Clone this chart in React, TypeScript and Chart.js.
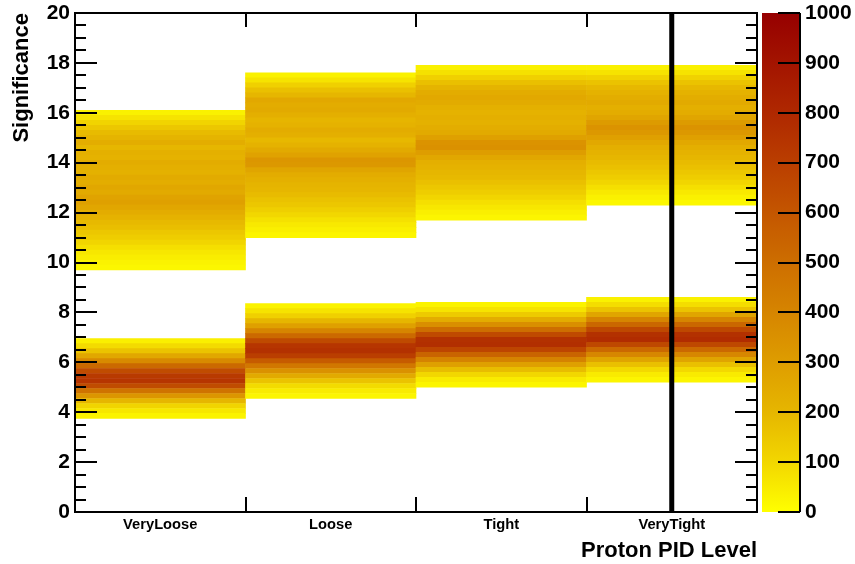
import React, { useEffect, useRef } from "react";
import { Chart, registerables } from "chart.js";

Chart.register(...registerables);

// ---- Data ----
const categories = ["VeryLoose", "Loose", "Tight", "VeryTight"];
const binWidth = 0.2; // significance units per bin

// counts per bin, listed from bottom (start) upwards
const veryLooseLowStart = 3.75;
const veryLooseLow = [30, 60, 110, 200, 330, 480, 640, 740, 720, 640, 520, 380, 260, 160, 90, 40];
const veryLooseHighStart = 9.7;
const veryLooseHigh = [20, 30, 45, 60, 80, 105, 130, 150, 175, 190, 215, 240, 265, 290, 275, 250, 260, 235, 245, 220, 230, 240, 215, 225, 200, 235, 210, 185, 150, 110, 70, 35];

const looseLowStart = 4.55;
const looseLow = [25, 50, 90, 160, 250, 350, 460, 580, 700, 760, 740, 650, 520, 400, 290, 200, 120, 70, 30];
const looseHighStart = 11.0;
const looseHigh = [25, 40, 55, 75, 100, 125, 150, 165, 185, 200, 210, 225, 240, 270, 320, 330, 280, 250, 215, 195, 230, 240, 215, 205, 230, 250, 240, 255, 200, 170, 120, 70, 35];

const tightLowStart = 5.0;
const tightLow = [25, 50, 100, 180, 290, 410, 540, 670, 770, 760, 650, 500, 360, 240, 140, 70, 30];
const tightHighStart = 11.7;
const tightHigh = [25, 40, 60, 80, 105, 130, 150, 170, 190, 200, 215, 230, 260, 300, 350, 340, 290, 250, 235, 220, 230, 215, 225, 245, 255, 240, 210, 170, 120, 75, 35];

const veryTightLowStart = 5.2;
const veryTightLow = [25, 50, 95, 170, 270, 390, 520, 660, 780, 760, 660, 530, 400, 270, 160, 85, 35];
const veryTightHighStart = 12.3;
const veryTightHigh = [20, 35, 55, 80, 105, 130, 150, 170, 185, 200, 215, 230, 255, 290, 320, 340, 310, 270, 240, 230, 250, 235, 215, 195, 160, 115, 70, 35];

const yTickStep = 2;
const zMin = 0;
const zMax = 1000;
const zTickStep = 100;
const markerCategoryIndex = 3; // vertical line position
const xTitle = "Proton PID Level";
const yTitle = "Significance";

// ---- Palette ----
const paletteStops: [number, number, number, number][] = [
  [0, 255, 255, 0],
  [100, 242, 215, 0],
  [200, 230, 182, 0],
  [300, 222, 157, 0],
  [400, 214, 133, 0],
  [500, 205, 110, 0],
  [600, 196, 86, 0],
  [700, 186, 62, 0],
  [800, 175, 40, 0],
  [900, 163, 20, 0],
  [1000, 150, 0, 0],
];

function colorFor(v: number): string {
  const c = Math.max(zMin, Math.min(zMax, v));
  for (let i = 0; i < paletteStops.length - 1; i++) {
    const a = paletteStops[i];
    const b = paletteStops[i + 1];
    if (c >= a[0] && c <= b[0]) {
      const t = (c - a[0]) / (b[0] - a[0]);
      const r = Math.round(a[1] + (b[1] - a[1]) * t);
      const g = Math.round(a[2] + (b[2] - a[2]) * t);
      const bl = Math.round(a[3] + (b[3] - a[3]) * t);
      return `rgb(${r},${g},${bl})`;
    }
  }
  return "rgb(150,0,0)";
}

const FONT = "'Liberation Sans', Arial, Helvetica, sans-serif";

type Bin = { lo: number; hi: number; v: number };

function toBins(start: number, counts: number[]): Bin[] {
  return counts.map((v, k) => ({
    lo: +(start + k * binWidth).toFixed(4),
    hi: +(start + (k + 1) * binWidth).toFixed(4),
    v,
  }));
}

function buildDatasets() {
  const perCat: Bin[][] = [
    [...toBins(veryLooseLowStart, veryLooseLow), ...toBins(veryLooseHighStart, veryLooseHigh)],
    [...toBins(looseLowStart, looseLow), ...toBins(looseHighStart, looseHigh)],
    [...toBins(tightLowStart, tightLow), ...toBins(tightHighStart, tightHigh)],
    [...toBins(veryTightLowStart, veryTightLow), ...toBins(veryTightHighStart, veryTightHigh)],
  ];
  const n = Math.max(...perCat.map((b) => b.length));
  const datasets: any[] = [];
  for (let j = 0; j < n; j++) {
    datasets.push({
      data: perCat.map((b) => (b[j] ? [b[j].lo, b[j].hi] : null)),
      backgroundColor: perCat.map((b) => (b[j] ? colorFor(b[j].v) : "rgba(0,0,0,0)")),
      borderWidth: 0,
      grouped: false,
      barPercentage: 1,
      categoryPercentage: 1,
    });
  }
  return datasets;
}

const decorPlugin = {
  id: "rootDecor",
  afterDraw(chart: any) {
    const ctx: CanvasRenderingContext2D = chart.ctx;
    const { left, right, top, bottom } = chart.chartArea;
    const xs = chart.scales.x;
    const ys = chart.scales.y;
    const zs = chart.scales.zAxis;
    ctx.save();
    ctx.strokeStyle = "#000";
    ctx.fillStyle = "#000";

    // y ticks (inward, both sides)
    ctx.lineWidth = 2;
    for (let v = 0; v <= 20.0001; v += 0.5) {
      const py = Math.round(ys.getPixelForValue(v));
      const major = Math.abs(v / yTickStep - Math.round(v / yTickStep)) < 1e-6;
      const len = major ? 22 : 11;
      ctx.beginPath();
      ctx.moveTo(left, py);
      ctx.lineTo(left + len, py);
      ctx.moveTo(right, py);
      ctx.lineTo(right - len, py);
      ctx.stroke();
    }
    // x ticks at category boundaries
    for (let i = 0; i < categories.length - 1; i++) {
      const px = Math.round(xs.getPixelForValue(i + 0.5));
      ctx.beginPath();
      ctx.moveTo(px, bottom);
      ctx.lineTo(px, bottom - 15);
      ctx.moveTo(px, top);
      ctx.lineTo(px, top + 14);
      ctx.stroke();
    }
    // frame
    ctx.lineWidth = 2;
    ctx.strokeRect(left, top, right - left, bottom - top);

    // vertical marker line
    const mx = xs.getPixelForValue(markerCategoryIndex);
    ctx.lineWidth = 5;
    ctx.beginPath();
    ctx.moveTo(mx, top);
    ctx.lineTo(mx, bottom);
    ctx.stroke();

    // colour bar
    const barL = right + 5;
    const barR = right + 43;
    const zTop = zs.getPixelForValue(zMax);
    const zBot = zs.getPixelForValue(zMin);
    const grad = ctx.createLinearGradient(0, zBot, 0, zTop);
    for (let v = zMin; v <= zMax; v += 20) {
      grad.addColorStop((v - zMin) / (zMax - zMin), colorFor(v));
    }
    ctx.fillStyle = grad;
    ctx.fillRect(barL, zTop, barR - barL, zBot - zTop);
    ctx.strokeStyle = "#000";
    ctx.lineWidth = 2;
    ctx.beginPath();
    ctx.moveTo(barR, zTop);
    ctx.lineTo(barR, zBot);
    ctx.stroke();
    for (let v = zMin; v <= zMax; v += zTickStep) {
      const py = Math.round(zs.getPixelForValue(v));
      ctx.beginPath();
      ctx.moveTo(barR, py);
      ctx.lineTo(barR - 22, py);
      ctx.stroke();
    }

    // axis titles
    ctx.fillStyle = "#000";
    ctx.font = `bold 22px ${FONT}`;
    ctx.textAlign = "right";
    ctx.textBaseline = "alphabetic";
    ctx.fillText(xTitle, right, 557);
    ctx.save();
    ctx.translate(28, top);
    ctx.rotate(-Math.PI / 2);
    ctx.textAlign = "right";
    ctx.fillText(yTitle, 0, 0);
    ctx.restore();

    ctx.restore();
  },
};

export default function App() {
  const ref = useRef<HTMLCanvasElement | null>(null);
  useEffect(() => {
    if (!ref.current) return;
    const chart = new Chart(ref.current, {
      type: "bar",
      data: { labels: categories, datasets: buildDatasets() },
      options: {
        animation: false,
        responsive: false,
        events: [],
        layout: { padding: { top: 13, left: 0, right: 0, bottom: 0 } },
        plugins: { legend: { display: false }, tooltip: { enabled: false } },
        scales: {
          x: {
            type: "category",
            offset: true,
            grid: { display: false, drawTicks: false },
            border: { display: false },
            ticks: {
              color: "#000",
              font: { family: FONT, size: 14.7, weight: "bold" },
              padding: 4,
              maxRotation: 0,
              autoSkip: false,
            },
            afterFit: (s: any) => {
              s.height = 52;
              s.paddingLeft = 0;
              s.paddingRight = 0;
            },
          },
          y: {
            type: "linear",
            position: "left",
            min: 0,
            max: 20,
            grid: { display: false, drawTicks: false },
            border: { display: false },
            ticks: {
              stepSize: yTickStep,
              color: "#000",
              font: { family: FONT, size: 21, weight: "bold" },
              padding: 5,
              callback: (v: any) => String(v),
            },
            afterFit: (s: any) => {
              s.width = 75;
              s.paddingTop = 0;
              s.paddingBottom = 0;
            },
          },
          zAxis: {
            type: "linear",
            axis: "y",
            position: "right",
            min: zMin,
            max: zMax,
            grid: { display: false, drawTicks: false },
            border: { display: false },
            ticks: {
              stepSize: zTickStep,
              color: "#000",
              font: { family: FONT, size: 21, weight: "bold" },
              padding: 48,
              callback: (v: any) => String(v),
            },
            afterFit: (s: any) => {
              s.width = 98;
              s.paddingTop = 0;
              s.paddingBottom = 0;
            },
          },
        },
      } as any,
      plugins: [decorPlugin],
    });
    return () => chart.destroy();
  }, []);
  return (
    <div style={{ position: "absolute", left: 0, top: 0, width: 855, height: 564 }}>
      <canvas ref={ref} width={855} height={564} style={{ display: "block" }} />
    </div>
  );
}
